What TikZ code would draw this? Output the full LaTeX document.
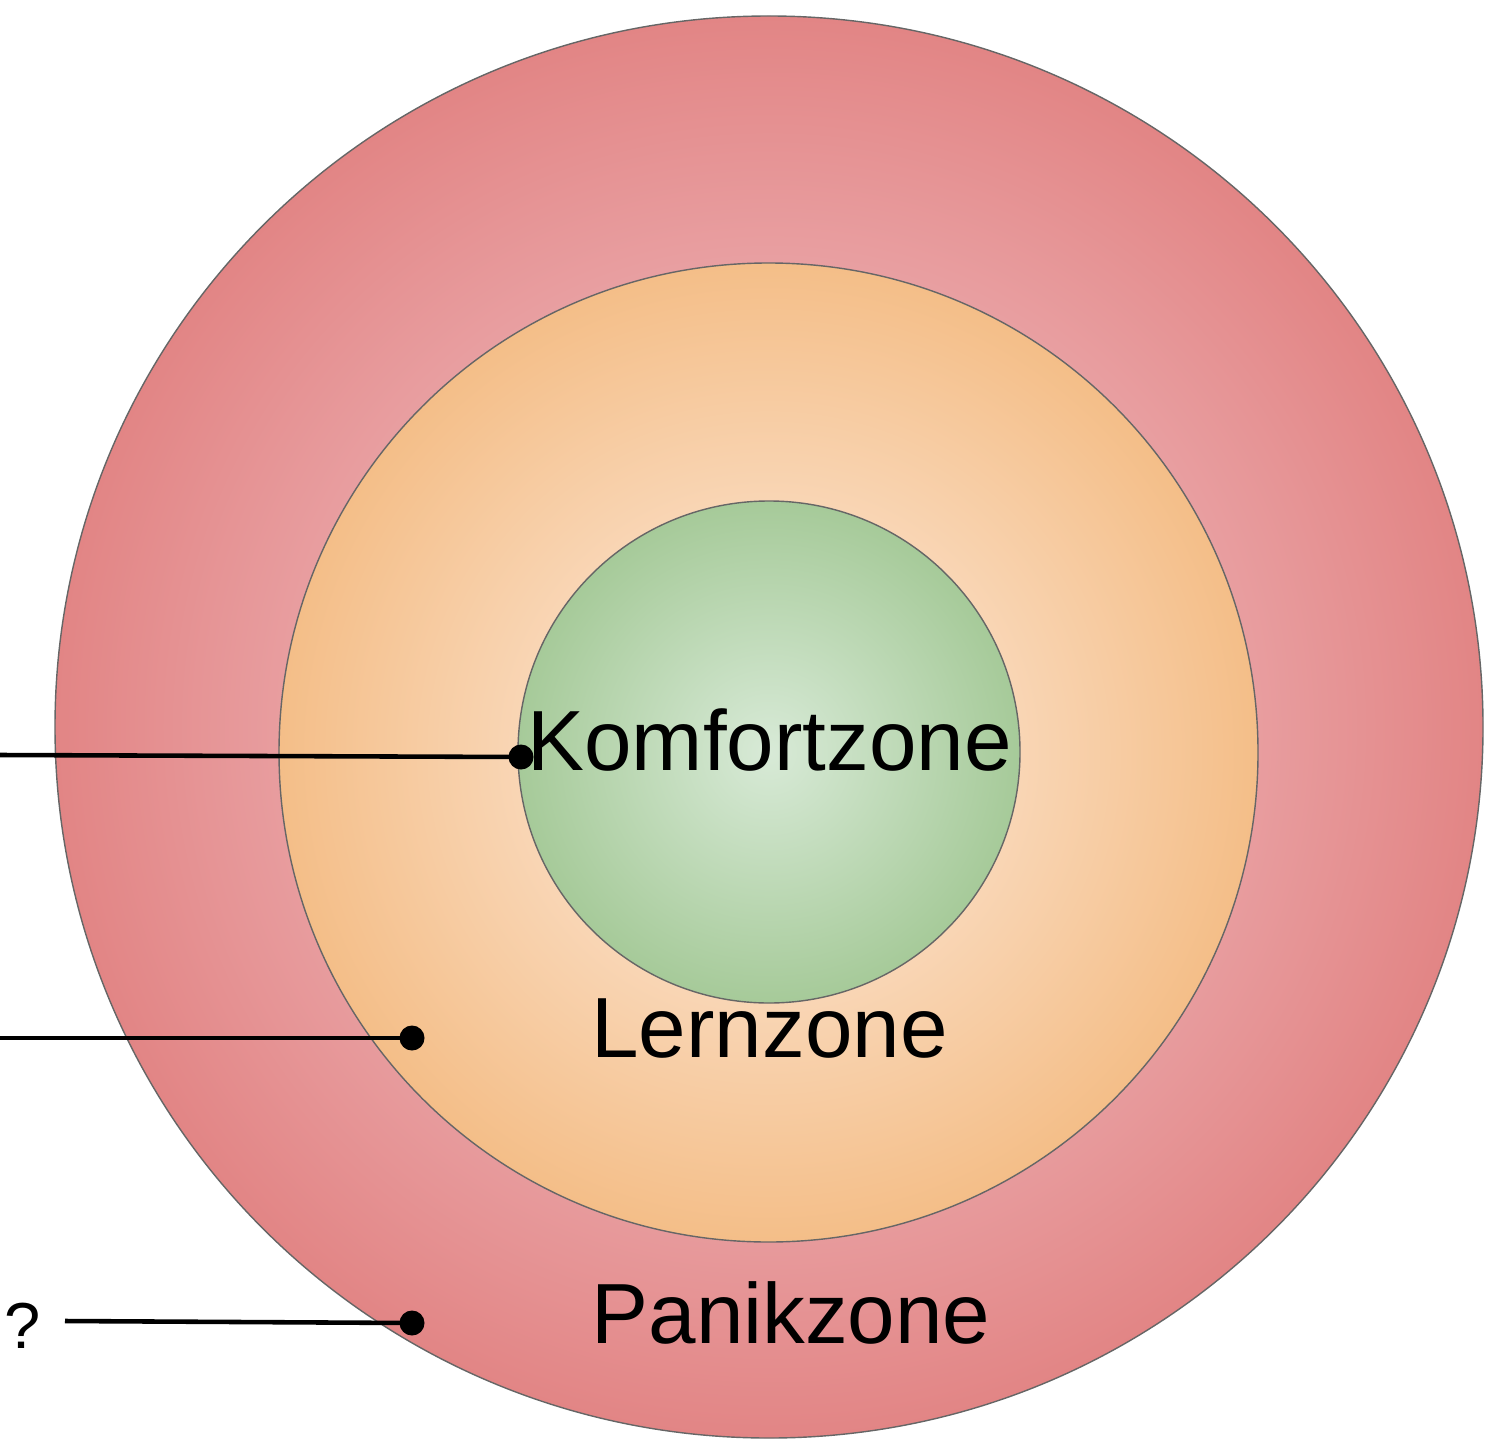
\documentclass[tikz,border=0pt]{standalone}
\usepackage{fontspec}
\setmainfont{Liberation Sans}
\usetikzlibrary{shapes.geometric,positioning,calc}

\definecolor{panikin}{RGB}{245,209,215}
\definecolor{panikout}{RGB}{226,133,133}
\definecolor{lernin}{RGB}{254,238,227}
\definecolor{lernout}{RGB}{244,190,136}
\definecolor{komfin}{RGB}{216,234,215}
\definecolor{komfout}{RGB}{166,202,153}
\definecolor{rim}{RGB}{102,102,102}

\begin{document}
\begin{tikzpicture}[
    zone/.style={draw=rim, line width=0.4pt, inner sep=0pt, shading=radial},
    label/.style={font=\fontsize{24.3}{29}\selectfont, anchor=base},
    pin/.style={circle, fill=black, inner sep=0pt, minimum size=0.25cm},
    leader/.style={line width=1.3pt, black},
]
\useasboundingbox (0,0) rectangle (14.96,-14.38);

% Three zones
\node[zone, ellipse, minimum width=14.28cm, minimum height=14.22cm,
      inner color=panikin, outer color=panikout] (panik) at (7.69,-7.27) {};
\node[zone, circle, minimum size=9.79cm,
      inner color=lernin, outer color=lernout] (lern) at (7.685,-7.525) {};
\node[zone, circle, minimum size=5.02cm,
      inner color=komfin, outer color=komfout] (komf) at (7.69,-7.52) {};

% Zone names
\node[label] (komftext) at (7.695,-7.70) {Komfortzone};
\node[label] (lerntext) at (7.695,-10.57) {Lernzone};
\node[label] (paniktext) at (7.91,-13.43) {Panikzone};

% Pins and leaders
\node[pin] (komfpin) at (5.21,-7.57) {};
\node[pin] (lernpin) at (4.12,-10.38) {};
\node[pin] (panikpin) at (4.12,-13.23) {};
\coordinate (komfend) at (0,-7.55);
\coordinate (lernend) at (0,-10.38);
\coordinate (panikend) at (0.65,-13.21);
\node[font=\fontsize{18.5}{22}\selectfont, anchor=base west, inner sep=0pt] (ask) at (0.04,-13.48) {?};

\draw[leader] (komfend) -- (komfpin.center);
\draw[leader] (lernend) -- (lernpin.center);
\draw[leader] (panikend) -- (panikpin.center);

\end{tikzpicture}
\end{document}
